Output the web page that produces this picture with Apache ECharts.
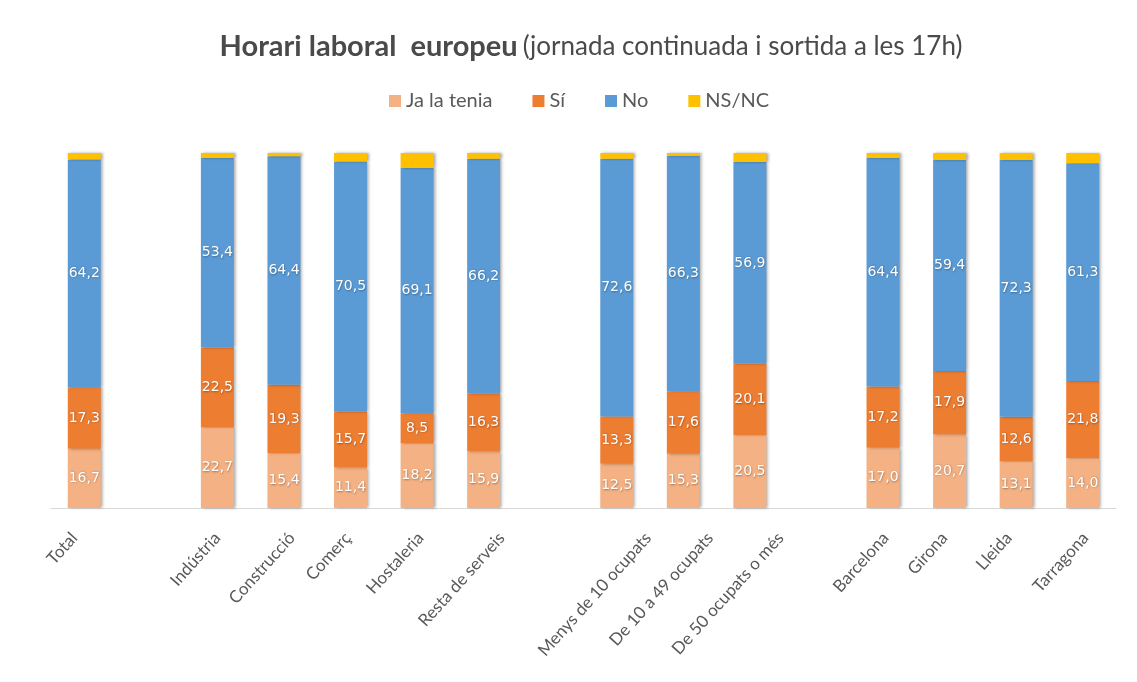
<!DOCTYPE html>
<html>
<head>
<meta charset="utf-8">
<script src="https://cdn.jsdelivr.net/npm/echarts@6/dist/echarts.min.js"></script>
<style>
  html, body { margin: 0; padding: 0; background: #fff; }
  #chart { width: 1137px; height: 682px; }
</style>
</head>
<body>
<div id="chart"></div>
<script>
// Categories; empty strings leave a gap between the groups
const categories = [
  'Total', '',
  'Indústria', 'Construcció', 'Comerç', 'Hostaleria', 'Resta de serveis', '',
  'Menys de 10 ocupats', 'De 10 a 49 ocupats', 'De 50 ocupats o més', '',
  'Barcelona', 'Girona', 'Lleida', 'Tarragona'
];

// Percentages per answer (null = gap column)
const jaLaTenia = [16.7, null, 22.7, 15.4, 11.4, 18.2, 15.9, null, 12.5, 15.3, 20.5, null, 17.0, 20.7, 13.1, 14.0];
const si        = [17.3, null, 22.5, 19.3, 15.7,  8.5, 16.3, null, 13.3, 17.6, 20.1, null, 17.2, 17.9, 12.6, 21.8];
const no        = [64.2, null, 53.4, 64.4, 70.5, 69.1, 66.2, null, 72.6, 66.3, 56.9, null, 64.4, 59.4, 72.3, 61.3];
const nsnc      = [ 1.8, null,  1.4,  0.9,  2.4,  4.2,  1.6, null,  1.6,  0.8,  2.5, null,  1.4,  2.0,  2.0,  2.9];

const FONT = 'Lato, "Open Sans", sans-serif';
const LABEL_FONT = '"DejaVu Sans", Verdana, sans-serif';
const TEXT = '#595959';
const CAT_FONT_SIZE = 17;
const CAT_ANGLE = 48 * Math.PI / 180;

function fmt(p) {
  return p.value == null ? '' : p.value.toFixed(1).replace('.', ',');
}

function barSeries(name, data, color, showLabel) {
  return {
    name: name,
    type: 'bar',
    stack: 'total',
    barWidth: 33,
    data: data,
    itemStyle: {
      color: color,
      shadowColor: 'rgba(0,0,0,0.35)',
      shadowBlur: 3,
      shadowOffsetX: 2,
      shadowOffsetY: 0
    },
    label: {
      show: showLabel,
      position: 'inside',
      color: '#fff',
      fontFamily: LABEL_FONT,
      fontSize: 14,
      textShadowColor: 'rgba(0,0,0,0.35)',
      textShadowBlur: 2,
      textShadowOffsetX: 0.5,
      textShadowOffsetY: 0.5,
      formatter: fmt
    },
    emphasis: { disabled: true }
  };
}

const chart = echarts.init(document.getElementById('chart'), null, { renderer: 'canvas' });
chart.setOption({
  animation: false,
  backgroundColor: '#fff',
  title: {
    left: 586,
    textAlign: 'center',
    top: 27,
    text: '{b|Horari laboral  europeu} {n|(jornada continuada i sortida a les 17h)}',
    textStyle: {
      rich: {
        b: { fontFamily: FONT, fontWeight: 'bold', fontSize: 29, color: '#4a4a4a' },
        n: { fontFamily: FONT, fontWeight: 'normal', fontSize: 26, color: '#4a4a4a' }
      }
    }
  },
  legend: {
    top: 86,
    left: 384,
    itemWidth: 12,
    itemHeight: 12,
    itemGap: 40,
    icon: 'rect',
    textStyle: { fontFamily: FONT, fontSize: 20, color: TEXT },
    data: ['Ja la tenia', 'Sí', 'No', 'NS/NC']
  },
  grid: { left: 51, right: 21, top: 153, bottom: 174 },
  xAxis: {
    type: 'category',
    data: categories,
    axisLine: { lineStyle: { color: '#d9d9d9', width: 1 } },
    axisTick: { show: false },
    axisLabel: { show: false }
  },
  yAxis: {
    type: 'value',
    min: 0,
    max: 100,
    show: false,
    splitLine: { show: false }
  },
  series: [
    barSeries('Ja la tenia', jaLaTenia, '#F4B183', true),
    barSeries('Sí', si, '#ED7D31', true),
    barSeries('No', no, '#5B9BD5', true),
    barSeries('NS/NC', nsnc, '#FFC000', false)
  ]
});

// Rotated category labels: each block is centred a little left of its
// column and all blocks share the same top edge below the axis line.
const measure = document.createElement('canvas').getContext('2d');
measure.font = CAT_FONT_SIZE + 'px Lato';
const axisY = chart.convertToPixel({ yAxisIndex: 0 }, 0);
const catLabels = [];
categories.forEach(function (name, i) {
  if (!name) return;
  const x = chart.convertToPixel({ xAxisIndex: 0 }, i);
  const w = measure.measureText(name).width;
  catLabels.push({
    type: 'text',
    x: x - 22 + w * Math.cos(CAT_ANGLE) / 2,
    y: axisY + 27,
    rotation: CAT_ANGLE,
    silent: true,
    style: {
      text: name,
      fill: TEXT,
      font: CAT_FONT_SIZE + 'px Lato',
      align: 'right',
      verticalAlign: 'middle'
    }
  });
});
chart.setOption({ graphic: catLabels });
</script>
</body>
</html>
